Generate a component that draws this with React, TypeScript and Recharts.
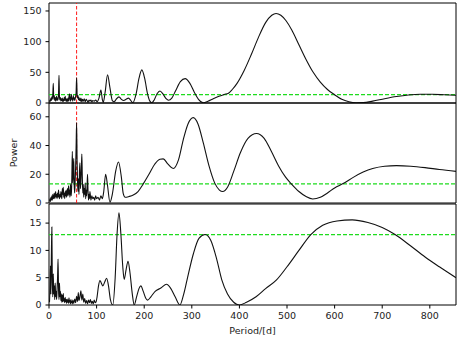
import { LineChart, Line, XAxis, YAxis, ReferenceLine, ReferenceArea, Label } from "recharts";

// panel 1
const P1_PERIOD = [
  1, 2, 3, 4, 5, 6, 7, 8, 9, 10,
  11, 12, 13, 14, 15, 16, 17, 18, 19, 20,
  21, 22, 23, 24, 25, 26, 27, 28, 29, 30,
  31, 32, 33, 34, 35, 36, 37, 38, 39, 40,
  41, 42, 43, 44, 45, 46, 47, 48, 49, 50,
  51, 52, 53, 54, 55, 56, 57, 58, 59, 60,
  61, 62, 63, 64, 65, 66, 67, 68, 69, 70,
  72, 74, 76, 78, 80, 82, 84, 86, 88, 90,
  92, 95, 98, 101, 105, 109, 112, 114, 118, 123,
  128, 133, 137, 141, 147, 152, 157, 162, 167, 172,
  176, 183, 189, 195, 201, 207, 212, 216, 221, 227,
  233, 240, 246, 251, 258, 266, 276, 286, 296, 305,
  314, 324, 334, 345, 357, 368, 377, 385, 395, 410,
  425, 440, 455, 468, 477, 487, 498, 510, 525, 540,
  555, 570, 585, 600, 615, 630, 645, 660, 680, 705,
  730, 755, 780, 805, 830, 855,
];
const P1_POWER = [
  2, 5, 3, 8, 4, 10, 6, 14, 32, 6,
  12, 4, 9, 3, 7, 11, 4, 8, 5, 15,
  45, 10, 5, 9, 3, 7, 4, 8, 2, 6,
  3, 9, 4, 11, 5, 3, 7, 2, 5, 8,
  3, 10, 15, 6, 3, 9, 14, 5, 8, 3,
  12, 6, 9, 4, 7, 11, 18, 41, 15, 8,
  12, 5, 9, 4, 7, 3, 8, 5, 2, 6,
  3, 7, 2, 6, 4, 1, 5, 3, 5, 2,
  4, 3, 5, 2, 8, 21, 6, 1, 18, 46,
  25, 4, 2, 6, 10, 6, 4, 6, 8, 4,
  0.5, 15, 40, 54, 40, 15, 3, 0.5, 5, 15,
  19.5, 14, 7, 4.4, 8, 20, 35, 39.7, 32, 18,
  6, 0.5, 3, 7, 11, 14, 16, 22, 32, 53,
  79, 107, 131, 143, 146, 143, 134, 119, 95, 71,
  50, 34, 22, 13.5, 6, 2, 0.4, 0.6, 3, 7,
  10.5, 13, 14.2, 14.2, 13.4, 12.5,
];

// panel 2
const P2_PERIOD = [
  1, 2, 3, 4, 5, 6, 7, 8, 9, 10,
  11, 12, 13, 14, 15, 16, 17, 18, 19, 20,
  21, 22, 23, 24, 25, 26, 27, 28, 29, 30,
  31, 32, 33, 34, 35, 36, 37, 38, 39, 40,
  41, 42, 43, 44, 45, 46, 47, 48, 49, 50,
  51, 52, 53, 54, 55, 56, 57, 58, 59, 60,
  61, 62, 63, 64, 65, 66, 67, 68, 69, 70,
  71, 72, 73, 74, 75, 76, 77, 78, 79, 80,
  81, 82, 83, 84, 85, 86,
  88, 90, 92, 94, 96, 98, 100, 103, 106, 109,
  112, 115, 119, 123, 128, 133, 140, 146, 152, 156,
  160, 168, 177, 187, 198, 210, 222, 233, 240, 250,
  261, 272, 282, 292, 303, 313, 324, 336, 348, 358,
  365, 375, 388, 402, 418, 436, 452, 467, 482, 497,
  510, 525, 540, 554, 570, 585, 600, 618, 640, 660,
  680, 705, 730, 760, 790, 820, 855,
];
const P2_POWER = [
  1, 3, 1, 4, 2, 5, 2, 6, 3, 4,
  7, 3, 5, 8, 4, 6, 3, 7, 4, 9,
  5, 3, 6, 4, 8, 5, 3, 10, 6, 11,
  4, 7, 3, 8, 5, 9, 4, 7, 10, 5,
  12, 6, 9, 4, 13, 7, 5, 18, 36, 14,
  22, 31, 12, 7, 16, 25, 40, 56, 30, 14,
  8, 17, 6, 22, 28, 10, 15, 24, 34, 18,
  7, 13, 4, 10, 6, 14, 3, 9, 5, 12,
  20, 8, 2, 6, 3, 8,
  2, 5, 3, 4, 2, 5, 3, 4, 2, 5,
  3, 8, 20, 12, 0.5, 6, 22, 28.5, 18, 6.5,
  4, 4.5, 5.5, 8, 13.3, 20, 27, 30.5, 30.7, 27,
  24, 30, 44, 55, 59.4, 55, 42, 26, 14, 9,
  8, 11, 22, 35, 45, 48.4, 45, 36, 26, 18,
  13, 8, 4.5, 2.8, 4, 7, 10.5, 13.5, 18, 21.5,
  24, 25.6, 26, 25.6, 24.6, 23.3, 22,
];

// panel 3
const P3_PERIOD = [
  1, 2, 3, 4, 5, 6, 7, 8, 9, 10,
  11, 12, 13, 14, 15, 16, 17, 18, 19, 20,
  21, 22, 23, 24, 25, 26, 27, 28, 29, 30,
  31, 32, 33, 34, 35, 36, 37, 38, 39, 40,
  41, 42, 43, 44, 45, 46, 47, 48, 49, 50,
  52, 54, 56, 58, 60, 61.5, 63, 65, 67, 69,
  71, 73, 75, 77, 79, 81, 83, 85, 87, 89,
  91, 93, 95, 97, 99, 101, 104, 107, 110, 113,
  117, 121, 125, 129, 134, 139, 143, 147, 151, 155,
  158, 162, 166, 170, 175, 179, 184, 189, 193, 198,
  203, 207, 214, 223, 235, 247, 256, 265, 275, 283,
  290, 303, 315, 328, 340, 352, 363, 375, 388, 400,
  415, 435, 455, 478, 500, 525, 550, 575, 605, 637,
  670, 700, 727, 760, 790, 820, 855,
];
const P3_POWER = [
  0.5, 3, 7.2, 2, 9, 14.3, 4, 1.5, 5.7, 2,
  3.5, 1, 4, 1.5, 2.5, 1, 3, 5, 8.4, 3,
  1, 4, 1.5, 2.5, 0.8, 2, 0.5, 1.8, 0.6, 2.1,
  0.7, 1.2, 0.4, 1.4, 0.6, 1, 0.3, 1.1, 0.5, 0.9,
  0.3, 1.3, 0.5, 0.8, 0.2, 1, 0.4, 0.7, 0.2, 0.9,
  0.3, 1.1, 0.4, 1.6, 0.6, 2.3, 0.8, 1.5, 2.6, 0.9,
  2, 0.5, 1.2, 0.3, 0.8, 0.2, 0.9, 0.4, 1, 0.3,
  0.7, 0.2, 0.9, 0.4, 0.6, 1.5, 3.5, 4.5, 4, 3.5,
  4.2, 4.9, 3.5, 1, 0, 5, 13, 16.9, 13, 7,
  4.7, 6.5, 8, 6, 2, 0, 1.5, 3, 3.5, 2.5,
  1.3, 0.9, 1.5, 2.5, 3.1, 3.8, 3, 1.5, 0, 2,
  4.6, 9.3, 12.2, 12.9, 11.8, 8.5, 4.6, 2, 0.5, 0,
  0.5, 1.5, 3, 4.6, 7, 10, 12.9, 14.6, 15.4, 15.6,
  15.1, 14.2, 12.9, 10.8, 8.8, 7, 5,
];

const PERIOD_TICKS = [0, 100, 200, 300, 400, 500, 600, 700, 800];
const P1_TICKS = [0, 50, 100, 150];
const P2_TICKS = [0, 20, 40, 60];
const P3_TICKS = [0, 5, 10, 15];
const THRESHOLDS = [13.7, 13.3, 12.9];
const BEST_PERIOD = 58;

const X_MAX = 855;
const tickStyle = { fontSize: 9.5, fill: "#222" };

function toRows(period: number[], power: number[]) {
  return period.map((p, i) => ({ period: p, power: power[i] }));
}

type PanelProps = {
  top: number;
  plotHeight: number;
  rows: { period: number; power: number }[];
  yMax: number;
  yTicks: number[];
  threshold: number;
  marker?: boolean;
  last?: boolean;
  ylabel?: boolean;
};

function Panel({ top, plotHeight, rows, yMax, yTicks, threshold, marker, last, ylabel }: PanelProps) {
  const axisH = last ? 38 : 0;
  const mTop = last ? 1 : 0;
  return (
    <div style={{ position: "absolute", left: 0, top }}>
      <LineChart width={458} height={plotHeight + axisH + mTop} data={rows}
        margin={{ top: mTop, right: 2, bottom: 0, left: 0 }}>
        <XAxis dataKey="period" type="number" domain={[0, X_MAX]} ticks={PERIOD_TICKS}
          allowDataOverflow interval={0} height={axisH} axisLine={false}
          tick={last ? tickStyle : false} tickLine={last ? { stroke: "#000" } : false}
          tickSize={3.5} tickMargin={3.5}>
          {last && <Label value="Period/[d]" position="insideBottom" offset={9}
            style={{ fontSize: 9.5, fill: "#222" }} />}
        </XAxis>
        <YAxis type="number" domain={[0, yMax]} ticks={yTicks} allowDataOverflow interval={0}
          width={49} axisLine={false} tick={tickStyle} tickLine={{ stroke: "#000" }}
          tickSize={3.5} tickMargin={4}>
          {ylabel && <Label value="Power" angle={-90} position="insideLeft" offset={14}
            style={{ fontSize: 9.5, fill: "#222", textAnchor: "middle" }} />}
        </YAxis>
        {marker && (
          <ReferenceLine x={BEST_PERIOD} stroke="#ff1a1a" strokeWidth={1} strokeDasharray="3.5 2" />
        )}
        <ReferenceLine y={threshold} stroke="#1edc1e" strokeWidth={1.2} strokeDasharray="4 2" />
        <Line type="monotone" dataKey="power" stroke="#111" strokeWidth={1.1} dot={false}
          isAnimationActive={false} />
        <ReferenceArea x1={0} x2={X_MAX} y1={0} y2={yMax} fill="none" stroke="#000"
          strokeWidth={1} fillOpacity={0} />
      </LineChart>
    </div>
  );
}

export default function App() {
  return (
    <div style={{ position: "absolute", left: 0, top: 0, width: 458, height: 343, background: "#fff",
      fontFamily: "'DejaVu Sans', sans-serif" }}>
      <style>{`.recharts-surface { overflow: visible; } .recharts-wrapper { overflow: visible; }`}</style>
      <Panel top={3} plotHeight={100} rows={toRows(P1_PERIOD, P1_POWER)} yMax={163}
        yTicks={P1_TICKS} threshold={THRESHOLDS[0]} marker />
      <Panel top={103} plotHeight={100} rows={toRows(P2_PERIOD, P2_POWER)} yMax={69.6}
        yTicks={P2_TICKS} threshold={THRESHOLDS[1]} marker ylabel />
      <Panel top={203} plotHeight={101} rows={toRows(P3_PERIOD, P3_POWER)} yMax={18.5}
        yTicks={P3_TICKS} threshold={THRESHOLDS[2]} last />
    </div>
  );
}
